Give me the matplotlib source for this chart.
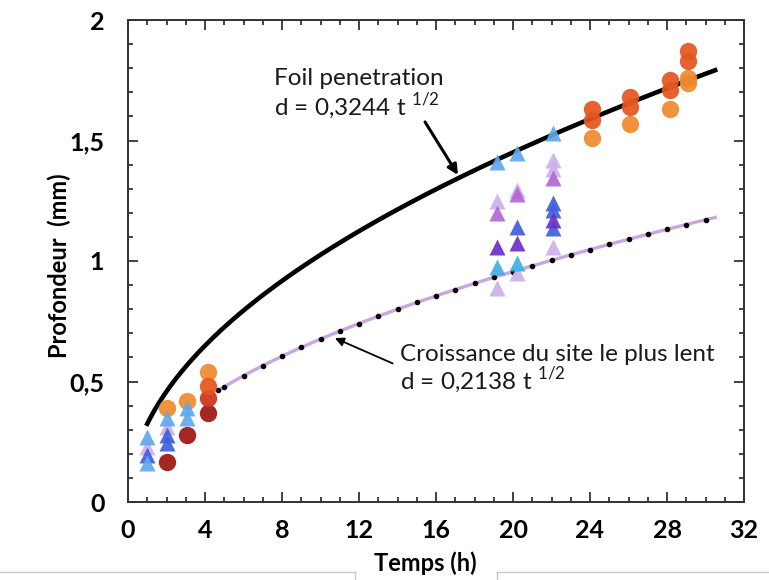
import numpy as np
import matplotlib
matplotlib.use("Agg")
import matplotlib.pyplot as plt
from matplotlib.lines import Line2D
from matplotlib.ticker import MultipleLocator, FixedLocator

plt.rcParams['font.family'] = ['Lato', 'DejaVu Sans']
plt.rcParams['mathtext.fontset'] = 'custom'
plt.rcParams['mathtext.rm'] = 'Lato'

# fitted laws written on the chart: d = k * t^(1/2)
k_foil = 0.3244
k_slow = 0.2138
t_foil = (1.0, 30.5)
t_slow = (4.7, 30.5)

# circles
orange_t = [2.0, 3.05, 4.15, 24.1, 26.1, 28.15, 29.1, 29.1]
orange_d = [0.39, 0.42, 0.54, 1.51, 1.57, 1.63, 1.76, 1.74]
redor_t = [4.15, 24.1, 24.1, 26.1, 26.1, 28.15, 28.15, 29.1, 29.1]
redor_d = [0.48, 1.585, 1.63, 1.64, 1.68, 1.71, 1.75, 1.83, 1.87]
red_t = [4.15]
red_d = [0.43]
dkred_t = [2.0, 3.05, 4.15]
dkred_d = [0.166, 0.28, 0.37]

# triangles
ltblue_t = [1.0, 1.0, 2.0, 3.05, 3.05, 19.15, 20.2, 22.1]
ltblue_d = [0.27, 0.16, 0.35, 0.39, 0.35, 1.41, 1.45, 1.53]
lav_t = [1.0, 2.0, 19.15, 19.15, 20.2, 20.2, 22.1, 22.1, 22.1]
lav_d = [0.23, 0.31, 1.25, 0.89, 1.295, 0.95, 1.42, 1.38, 1.06]
pink_t = [19.15, 22.1, 20.2]
pink_d = [1.20, 1.345, 1.28]
purple_t = [19.15, 20.2, 22.1]
purple_d = [1.06, 1.075, 1.17]
royal_t = [1.0, 2.0, 2.0, 20.2, 22.1, 22.1, 22.1]
royal_d = [0.195, 0.28, 0.245, 1.14, 1.24, 1.21, 1.135]
cyan_t = [19.15, 20.2]
cyan_d = [0.975, 0.99]

xticks = [0, 4, 8, 12, 16, 20, 24, 28, 32]
yticks = [0, 0.5, 1, 1.5, 2]
ylabels = ['0', '0,5', '1', '1,5', '2']

fig = plt.figure(figsize=(7.69, 5.80), dpi=100)
ax = fig.add_axes([128 / 769, 1 - 502 / 580, 616 / 769, 482 / 580])

# fit curves
tf = np.linspace(t_foil[0], t_foil[1], 200)
ax.plot(tf, k_foil * np.sqrt(tf), color='black', lw=3.3, zorder=2)
ts = np.linspace(t_slow[0], t_slow[1], 200)
ax.plot(ts, k_slow * np.sqrt(ts), color='#c7a6e2', lw=2.4, zorder=2)
td = np.r_[t_slow[0], np.arange(5, 31)]
ax.plot(td, k_slow * np.sqrt(td), 'o', color='black', ms=3, zorder=2.1)

ms_c = 12.5
ms_t = 11
def circ(t, d, c):
    ax.plot(t, d, 'o', color=c, ms=ms_c, mec='none', alpha=0.92, zorder=3)

def tri(t, d, c):
    ax.plot(t, d, '^', color=c, ms=ms_t, mec='none', alpha=0.92, zorder=4)

circ(dkred_t, dkred_d, '#9c1410')
circ(red_t, red_d, '#cc3318')
circ(orange_t, orange_d, '#ee8a2c')
circ(redor_t, redor_d, '#e4561f')

tri(lav_t, lav_d, '#cdb0ec')
tri(pink_t, pink_d, '#b266d8')
tri(cyan_t, cyan_d, '#3fb0e2')
tri(royal_t, royal_d, '#3f5ede')
tri(purple_t, purple_d, '#6a30c4')
tri(ltblue_t, ltblue_d, '#5ea8ee')

ax.set_xlim(0, 32)
ax.set_ylim(0, 2)
ax.xaxis.set_major_locator(FixedLocator(xticks))
ax.xaxis.set_minor_locator(MultipleLocator(1))
ax.yaxis.set_major_locator(FixedLocator(yticks))
ax.yaxis.set_minor_locator(MultipleLocator(0.1))
ax.set_yticklabels(ylabels)
ax.tick_params(which='both', direction='in', top=True, right=True,
               color='#333333', width=1.3)
ax.tick_params(which='major', length=7)
ax.tick_params(which='minor', length=3.5)
ax.tick_params(axis='x', which='major', pad=12, labelsize=18)
ax.tick_params(axis='y', which='major', pad=17, labelsize=18)
for lab in ax.get_xticklabels() + ax.get_yticklabels():
    lab.set_fontweight('bold')
for s in ax.spines.values():
    s.set_color('#333333')
    s.set_linewidth(1.4)

ax.set_xlabel('Temps (h)', fontsize=17, fontweight='bold')
ax.set_ylabel('Profondeur  (mm)', fontsize=17, fontweight='bold')
ax.xaxis.set_label_coords(0.482, -0.103)
ax.yaxis.set_label_coords(-0.092, 0.49)

ax.text(7.6, 1.69, 'Foil penetration\nd = 0,3244 t $^{\\mathrm{1/2}}$',
        fontsize=17.5, color='#1a1a1a', linespacing=1.1, ha='left', va='center')
ax.annotate('', xy=(17.14, 1.357), xytext=(15.43, 1.577),
            arrowprops=dict(arrowstyle='-|>', color='black', lw=2.2,
                            mutation_scale=15, shrinkA=0, shrinkB=0))
ax.text(14.13, 0.548, 'Croissance du site le plus lent\nd = 0,2138 t $^{\\mathrm{1/2}}$',
        fontsize=17.5, color='#1a1a1a', linespacing=1.05, ha='left', va='center')
ax.annotate('', xy=(10.75, 0.68), xytext=(13.75, 0.575),
            arrowprops=dict(arrowstyle='-|>', color='black', lw=1.3,
                            mutation_scale=13, shrinkA=0, shrinkB=0))

# slide frame remnants at the bottom
g = '#c8c8c8'
fig.add_artist(Line2D([0, 355 / 769], [1 - 572 / 580] * 2, color=g, lw=1))
fig.add_artist(Line2D([355 / 769] * 2, [1 - 572 / 580, 0], color=g, lw=1))
fig.add_artist(Line2D([497 / 769, 1], [1 - 572 / 580] * 2, color=g, lw=1))
fig.add_artist(Line2D([497 / 769] * 2, [1 - 572 / 580, 0], color=g, lw=1))

fig.savefig('out.png', dpi=100)
